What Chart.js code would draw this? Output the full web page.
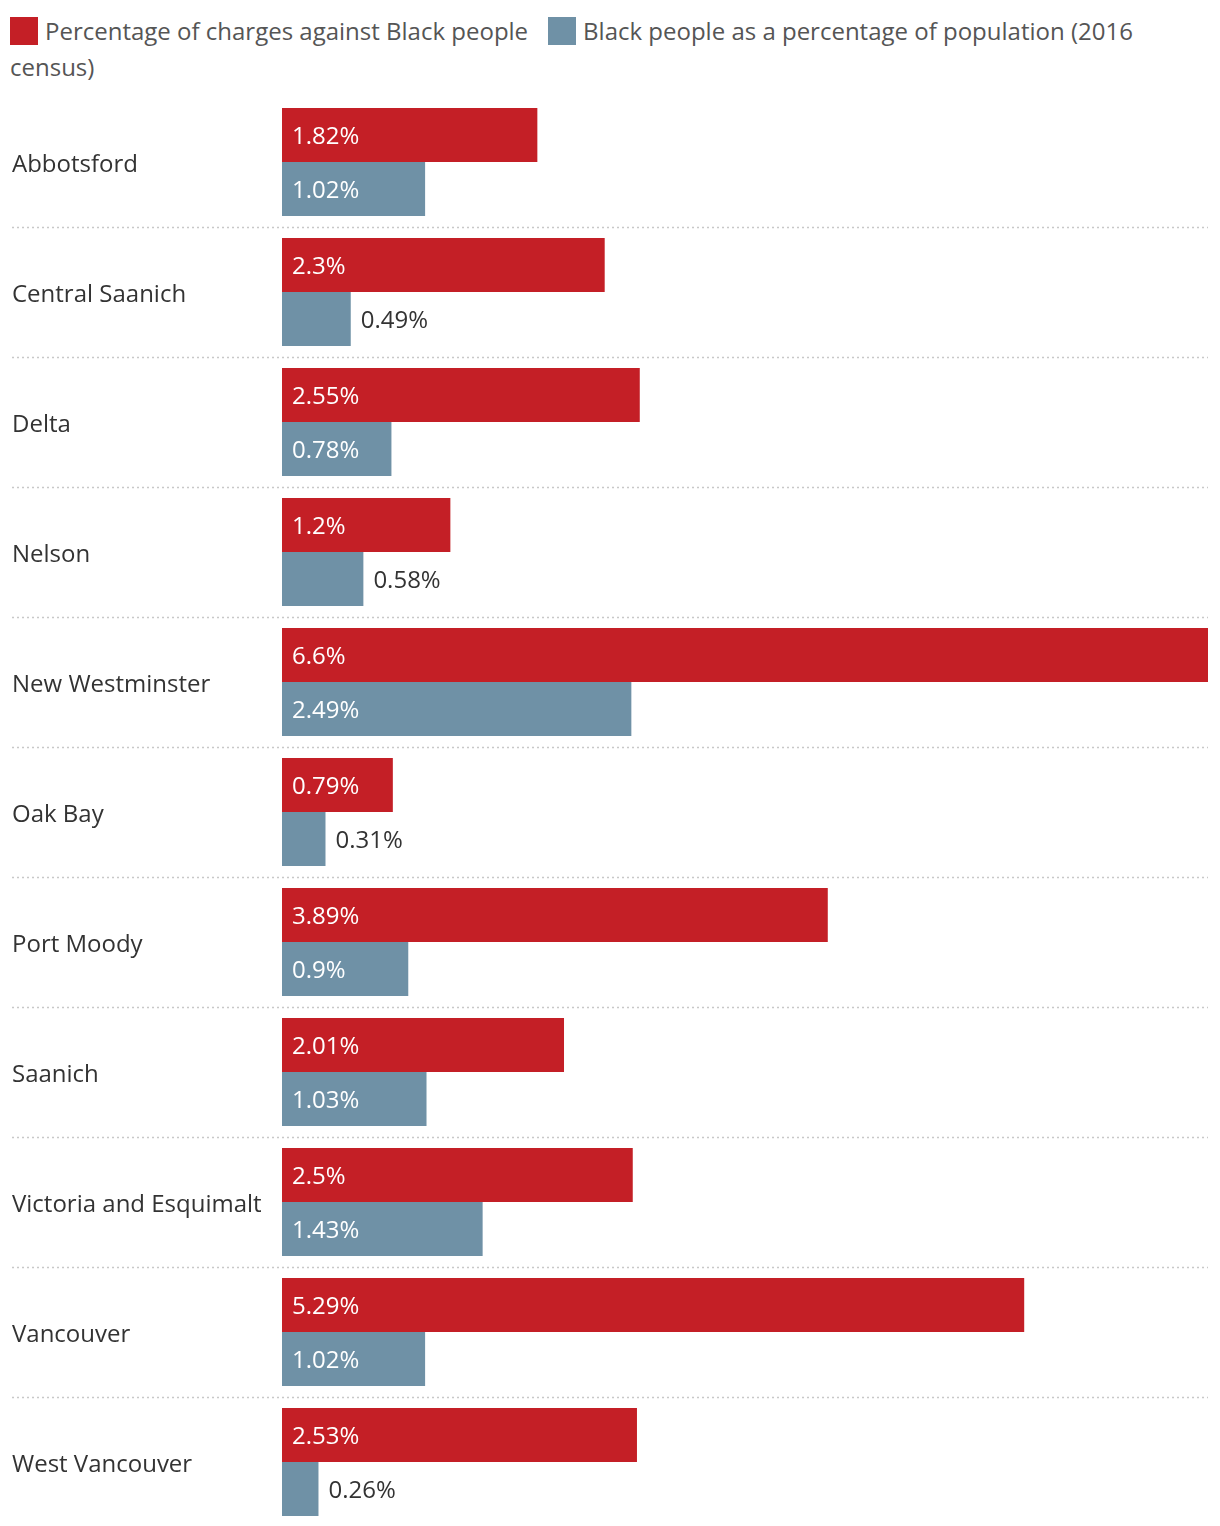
<!DOCTYPE html>
<html>
<head>
<meta charset="utf-8">
<script src="https://cdn.jsdelivr.net/npm/chart.js@4.4.1/dist/chart.umd.min.js"></script>
<style>
  body { margin: 0; background: #fff; font-family: "Open Sans", sans-serif; }
  #legende {
    position: absolute; left: 10px; top: 13px; width: 1200px;
    font-size: 24px; line-height: 36px; color: #555;
  }
  .caixa { display: inline-block; width: 28px; height: 28px; vertical-align: -5px; margin-right: 7px; }
  .item { margin-right: 20px; }
  #grafico { position: absolute; left: 0; top: 97px; width: 1220px; height: 1430px; }
</style>
</head>
<body>
<div id="legende"></div>
<div id="grafico"><canvas id="barras"></canvas></div>
<script>
// dados
const cidades = [
  'Abbotsford', 'Central Saanich', 'Delta', 'Nelson', 'New Westminster', 'Oak Bay',
  'Port Moody', 'Saanich', 'Victoria and Esquimalt', 'Vancouver', 'West Vancouver'
]
const acusacoes = [1.82, 2.3, 2.55, 1.2, 6.6, 0.79, 3.89, 2.01, 2.5, 5.29, 2.53]
const populacao = [1.02, 0.49, 0.78, 0.58, 2.49, 0.31, 0.9, 1.03, 1.43, 1.02, 0.26]
const nomesSeries = [
  'Percentage of charges against Black people',
  'Black people as a percentage of population (2016 census)'
]
const cores = ['#c41f26', '#6f91a6']

// legenda em HTML (o texto quebra linha como no original)
document.getElementById('legende').innerHTML = nomesSeries
  .map((n, i) => `<span class="item"><span class="caixa" style="background:${cores[i]}"></span>${n}</span>`)
  .join('')

const fonte = '24px "Open Sans", sans-serif'

// linhas pontilhadas entre as categorias
const separadores = {
  id: 'separadores',
  beforeDatasetsDraw(chart) {
    const { ctx, chartArea, scales } = chart
    const y = scales.y
    ctx.save()
    ctx.strokeStyle = '#c8c8c8'
    ctx.lineWidth = 1.5
    ctx.setLineDash([2, 3])
    for (let i = 0; i < cidades.length - 1; i++) {
      const py = Math.round((y.getPixelForValue(i) + y.getPixelForValue(i + 1)) / 2) + 0.5
      ctx.beginPath()
      ctx.moveTo(12, py)
      ctx.lineTo(chartArea.right, py)
      ctx.stroke()
    }
    ctx.restore()
  }
}

// rótulos de valor: dentro da barra (branco) ou fora (escuro)
const rotulos = {
  id: 'rotulos',
  afterDatasetsDraw(chart) {
    const { ctx } = chart
    ctx.save()
    ctx.font = fonte
    ctx.textBaseline = 'middle'
    ctx.textAlign = 'left'
    chart.data.datasets.forEach((ds, di) => {
      chart.getDatasetMeta(di).data.forEach((bar, i) => {
        const texto = ds.data[i] + '%'
        const w = ctx.measureText(texto).width
        const largura = bar.x - bar.base
        if (largura >= w + 20) {
          ctx.fillStyle = '#fff'
          ctx.fillText(texto, bar.base + 10, bar.y + 2)
        } else {
          ctx.fillStyle = '#333'
          ctx.fillText(texto, bar.x + 10, bar.y + 2)
        }
      })
    })
    ctx.restore()
  }
}

new Chart(document.getElementById('barras'), {
  type: 'bar',
  data: {
    labels: cidades,
    datasets: [
      { label: nomesSeries[0], data: acusacoes, backgroundColor: cores[0] },
      { label: nomesSeries[1], data: populacao, backgroundColor: cores[1] }
    ]
  },
  options: {
    indexAxis: 'y',
    responsive: true,
    maintainAspectRatio: false,
    animation: false,
    categoryPercentage: 0.83,
    barPercentage: 1,
    layout: { padding: { left: 12, right: 12, top: 0, bottom: 0 } },
    plugins: {
      legend: { display: false },
      tooltip: { enabled: false }
    },
    scales: {
      x: { display: false, min: 0, max: 6.6 },
      y: {
        grid: { display: false },
        border: { display: false },
        afterFit: scale => {
          scale.width = 270
          scale.paddingTop = 0
          scale.paddingBottom = 0
        },
        ticks: {
          crossAlign: 'far',
          labelOffset: 3,
          color: '#333',
          font: { family: '"Open Sans", sans-serif', size: 24 }
        }
      }
    }
  },
  plugins: [separadores, rotulos]
})
</script>
</body>
</html>
